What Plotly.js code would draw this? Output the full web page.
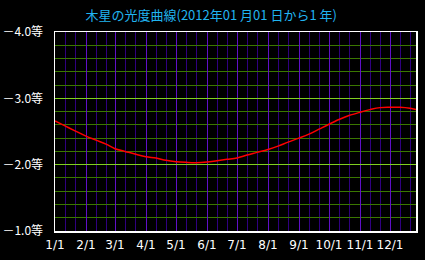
<!DOCTYPE html>
<html>
<head>
<meta charset="utf-8">
<script src="https://cdn.plot.ly/plotly-3.0.1.min.js"></script>
<style>html,body{margin:0;padding:0;background:#000;}#chart{width:425px;height:260px;}</style>
</head>
<body>
<div id="chart"></div>
<script>
const dates = ['2012-01-01','2012-01-11','2012-01-21','2012-02-01','2012-02-11','2012-02-21',
  '2012-03-01','2012-03-11','2012-03-21','2012-04-01','2012-04-11','2012-04-21',
  '2012-05-01','2012-05-11','2012-05-21','2012-06-01','2012-06-11','2012-06-21',
  '2012-07-01','2012-07-11','2012-07-21','2012-08-01','2012-08-11','2012-08-21',
  '2012-09-01','2012-09-11','2012-09-21','2012-10-01','2012-10-11','2012-10-21',
  '2012-11-01','2012-11-11','2012-11-21','2012-12-01','2012-12-11','2012-12-21','2012-12-27'];
const magnitude = [-2.66,-2.585,-2.51,-2.43,-2.37,-2.31,
  -2.24,-2.20,-2.16,-2.12,-2.10,-2.065,
  -2.045,-2.035,-2.03,-2.04,-2.06,-2.08,
  -2.10,-2.145,-2.185,-2.23,-2.28,-2.34,
  -2.40,-2.46,-2.535,-2.61,-2.68,-2.74,
  -2.79,-2.83,-2.86,-2.865,-2.865,-2.85,-2.83];
const monthTicks = ['2012-01-01','2012-02-01','2012-03-01','2012-04-01','2012-05-01','2012-06-01',
  '2012-07-01','2012-08-01','2012-09-01','2012-10-01','2012-11-01','2012-12-01'];
const monthLabels = ['1/1','2/1','3/1','4/1','5/1','6/1','7/1','8/1','9/1','10/1','11/1','12/1'];
const minorTicks = [];
monthTicks.forEach(m => { minorTicks.push(m.slice(0,8)+'11'); minorTicks.push(m.slice(0,8)+'21'); });
const magTicks = [-4, -3, -2, -1];
const magLabels = ['－4.0等','－3.0等','－2.0等','－1.0等'];

const trace = {
  x: dates, y: magnitude, type: 'scatter', mode: 'lines',
  line: {color: '#ff0000', width: 1.5, shape: 'spline'},
  hoverinfo: 'skip'
};
const layout = {
  width: 425, height: 260,
  paper_bgcolor: '#000', plot_bgcolor: '#000',
  margin: {l: 55, r: 9, t: 32, b: 29},
  showlegend: false,
  font: {family: '"Noto Sans CJK JP", "Noto Sans", sans-serif', color: '#fff', size: 12},
  title: {text: '木星の光度曲線(2012年01 月01 日から1 年)', x: 0.497, xanchor: 'center', y: 0.94, yanchor: 'middle',
    font: {color: '#20b4f0', size: 13, family: '"Noto Sans CJK JP", sans-serif'}},
  xaxis: {
    type: 'date', range: ['2012-01-01', '2012-12-27'],
    tickmode: 'array', tickvals: monthTicks, ticktext: monthLabels,
    showgrid: true, gridcolor: '#6010c8', gridwidth: 1,
    minor: {tickmode: 'array', tickvals: minorTicks, showgrid: true, gridcolor: '#300080', gridwidth: 1, ticks: ''},
    ticks: '', showline: true, linecolor: '#fff', linewidth: 1.5, mirror: true,
    zeroline: false, tickfont: {color: '#fff', size: 12, family: '"DejaVu Sans", sans-serif'},
    ticklabelstandoff: 2
  },
  yaxis: {
    range: [-1, -4],
    tickmode: 'array', tickvals: magTicks, ticktext: magLabels,
    showgrid: true, gridcolor: '#80d020', gridwidth: 1,
    minor: {dtick: 0.2, tick0: -4, showgrid: true, gridcolor: '#3a7800', gridwidth: 1, ticks: ''},
    ticks: '', showline: true, linecolor: '#fff', linewidth: 1.5, mirror: true,
    zeroline: false, tickfont: {color: '#fff', size: 12, family: '"Noto Sans CJK JP", sans-serif'},
    ticklabelstandoff: 8
  }
};
Plotly.newPlot('chart', [trace], layout, {staticPlot: true, displayModeBar: false});
</script>
</body>
</html>
